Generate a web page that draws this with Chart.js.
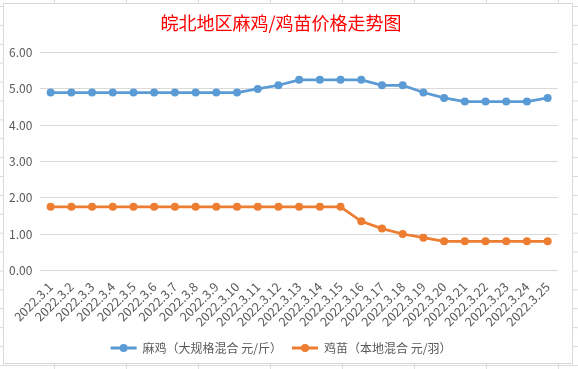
<!DOCTYPE html>
<html>
<head>
<meta charset="utf-8">
<script src="https://cdn.jsdelivr.net/npm/chart.js@4.4.1/dist/chart.umd.min.js"></script>
<style>
  html, body { margin: 0; padding: 0; width: 578px; height: 369px; overflow: hidden; }
  body {
    position: relative;
    background-color: #fff;
    background-image: linear-gradient(to bottom, #dadada 1px, transparent 1px),
                      linear-gradient(to right, #dadada 1px, transparent 1px);
    background-size: 100% 18.9px, 72px 100%;
    background-position: 0 6px, 54px 0;
  }
  #frame { position: absolute; left: 3px; top: 3px; width: 570px; height: 361px;
           box-sizing: border-box; border: 1px solid #d9d9d9; background: #fff; }
  #wrap { position: absolute; left: 4px; top: 4px; width: 568px; height: 360px; }
</style>
</head>
<body>
<div id="frame"></div>
<div id="wrap"><canvas id="chart"></canvas></div>
<script>
const dates = ['2022.3.1','2022.3.2','2022.3.3','2022.3.4','2022.3.5','2022.3.6','2022.3.7','2022.3.8','2022.3.9','2022.3.10',
  '2022.3.11','2022.3.12','2022.3.13','2022.3.14','2022.3.15','2022.3.16','2022.3.17','2022.3.18','2022.3.19','2022.3.20',
  '2022.3.21','2022.3.22','2022.3.23','2022.3.24','2022.3.25'];
// 麻鸡 price (yuan / jin)
const maji = [4.9,4.9,4.9,4.9,4.9,4.9,4.9,4.9,4.9,4.9,
  5.0,5.1,5.25,5.25,5.25,5.25,5.1,5.1,4.9,4.75,
  4.65,4.65,4.65,4.65,4.75];
// 鸡苗 price (yuan / bird)
const jimiao = [1.75,1.75,1.75,1.75,1.75,1.75,1.75,1.75,1.75,1.75,
  1.75,1.75,1.75,1.75,1.75,1.35,1.15,1.0,0.9,0.8,
  0.8,0.8,0.8,0.8,0.8];
const yTicks = [0, 1, 2, 3, 4, 5, 6];

const FONT = '"Noto Sans CJK SC", "Noto Sans", sans-serif';
const GREY = '#595959';
const BLUE = '#5B9BD5';
const ORANGE = '#ED7D31';

// draw a round marker on top of each legend line, like the Excel legend
const legendMarkers = {
  id: 'legendMarkers',
  afterDraw(chart) {
    const lg = chart.legend;
    if (!lg || !lg.legendHitBoxes) return;
    const ctx = chart.ctx;
    const bw = lg.options.labels.boxWidth;
    lg.legendHitBoxes.forEach((b, i) => {
      const ds = chart.data.datasets[i];
      ctx.save();
      ctx.fillStyle = ds.borderColor;
      ctx.beginPath();
      ctx.arc(b.left + bw / 2, b.top + b.height / 2, 4, 0, Math.PI * 2);
      ctx.fill();
      ctx.restore();
    });
  }
};

new Chart(document.getElementById('chart'), {
  type: 'line',
  data: {
    labels: dates,
    datasets: [
      { label: '麻鸡（大规格混合 元/斤）', data: maji, borderColor: BLUE, backgroundColor: BLUE,
        borderWidth: 2.75, pointRadius: 4, pointBorderWidth: 0, pointBackgroundColor: BLUE, tension: 0 },
      { label: '鸡苗（本地混合 元/羽）', data: jimiao, borderColor: ORANGE, backgroundColor: ORANGE,
        borderWidth: 2.75, pointRadius: 4, pointBorderWidth: 0, pointBackgroundColor: ORANGE, tension: 0 }
    ]
  },
  options: {
    responsive: true,
    maintainAspectRatio: false,
    animation: false,
    layout: { padding: { left: 0, right: 14, top: 0, bottom: 0 } },
    plugins: {
      title: {
        display: true,
        text: '皖北地区麻鸡/鸡苗价格走势图',
        color: '#FF0000',
        font: { family: FONT, size: 18, weight: 'normal' },
        padding: { top: 8, bottom: 19 }
      },
      legend: {
        position: 'bottom',
        labels: {
          color: GREY,
          font: { family: FONT, size: 12 },
          boxWidth: 26,
          boxHeight: 3,
          padding: 10,
          generateLabels: (chart) =>
            Chart.defaults.plugins.legend.labels.generateLabels(chart).map(l => ({ ...l, lineWidth: 0 }))
        }
      },
      tooltip: { enabled: false }
    },
    scales: {
      x: {
        offset: true,
        grid: { display: false, drawTicks: false },
        border: { display: false },
        ticks: { color: GREY, font: { family: FONT, size: 12.5 }, maxRotation: 45, minRotation: 45,
                 autoSkip: false, padding: 9 },
        afterFit: (s) => { s.height = 61.7; }
      },
      y: {
        min: 0,
        max: 6,
        afterBuildTicks: (s) => { s.ticks = yTicks.map(v => ({ value: v })); },
        grid: { color: '#d9d9d9', lineWidth: 1, drawTicks: false },
        border: { display: false },
        ticks: { color: GREY, font: { family: FONT, size: 12 }, padding: 8,
                 callback: (v) => Number(v).toFixed(2) },
        afterFit: (s) => { s.width = 36.3; }
      }
    }
  },
  plugins: [legendMarkers]
});
</script>
</body>
</html>
